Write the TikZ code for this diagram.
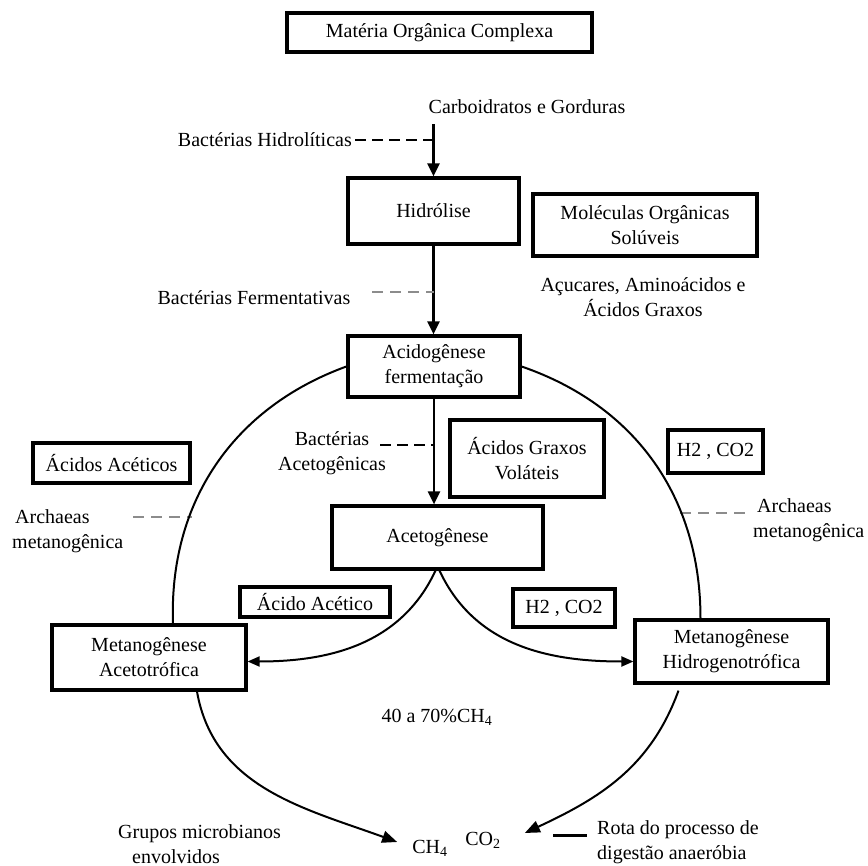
\documentclass[tikz,border=0pt]{standalone}
\usepackage{fontspec}
\setmainfont{Liberation Serif}
\usetikzlibrary{arrows.meta}
\begin{document}
\begin{tikzpicture}[x=1pt,y=-1pt,
  every node/.style={font=\fontsize{20}{25}\selectfont, inner sep=0pt, text=black},
  box/.style={draw, line width=3.2pt, align=center},
  arr/.style={line width=2.3pt, -{Triangle[length=13pt,width=12pt]}},
  curve/.style={line width=2pt},
  smallhead/.style={-{Triangle[length=12pt,width=10pt]}},
  bighead/.style={-{Triangle[length=15pt,width=12pt]}},
  dk/.style={line width=2.8pt, dash pattern=on 11pt off 6pt},
  gy/.style={line width=2.4pt, black!45, dash pattern=on 11pt off 7pt}]
\useasboundingbox (0,0) rectangle (868,866);

\node[box, minimum width=305pt, minimum height=39pt] (mat) at (439.5,32.5) {Matéria Orgânica Complexa};
\node (carb) at (527,107) {Carboidratos e Gorduras};
\node[anchor=east] (bh) at (352,140) {Bactérias Hidrolíticas};
\node[box, minimum width=171pt, minimum height=66pt] (hid) at (433.5,211) {Hidrólise};
\node[box, minimum width=224pt, minimum height=62pt] (mol) at (645,225) {Moléculas Orgânicas\\Solúveis};
\node[align=center] (acu) at (643,297) {Açucares, Aminoácidos e\\Ácidos Graxos};
\node (bf) at (254,298) {Bactérias Fermentativas};
\node[box, minimum width=172pt, minimum height=61pt] (acid) at (434,366.5) {Acidogênese\\fermentação};
\node[align=center] (bac) at (332,453) {Bactérias\\Acetogênicas};
\node[box, minimum width=154pt, minimum height=77pt] (agv) at (527,458.5) {Ácidos Graxos\\Voláteis};
\node[box, minimum width=157pt, minimum height=40pt] (acac) at (111.5,463) {Ácidos Acéticos};
\node[box, minimum width=95pt, minimum height=43pt] (h2a) at (715.5,451.5) {H2 , CO2};
\node[align=left, anchor=west] (arL) at (12,531) {\hspace{3pt}Archaeas\\metanogênica};
\node[align=left, anchor=west] (arR) at (753,520) {\hspace{4pt}Archaeas\\metanogênica};
\node[box, minimum width=211pt, minimum height=63pt] (acet) at (437.5,537.5) {Acetogênese};
\node[box, minimum width=150pt, minimum height=30pt] (acido) at (315,602) {Ácido Acético};
\node[box, minimum width=102pt, minimum height=38pt] (h2b) at (564,608) {H2 , CO2};
\node[box, minimum width=194pt, minimum height=65pt] (mac) at (149,657.5) {Metanogênese\\Acetotrófica};
\node[box, minimum width=193pt, minimum height=63pt] (mhid) at (731.5,651.5) {Metanogênese\\Hidrogenotrófica};
\node (pct) at (437,717) {40 a 70\%CH\textsubscript{4}};
\node (ch4) at (430,848) {CH\textsubscript{4}};
\node (co2) at (483,840) {CO\textsubscript{2}};
\node[align=left, anchor=west] (grp) at (118,844) {Grupos microbianos\\\hspace{14pt}envolvidos};
\node[align=left, anchor=west] (rota) at (597,842) {Rota do processo de\\digestão anaeróbia};

% main vertical arrows
\draw[arr] ([yshift=-10pt]hid.north |- carb.south) -- (hid.north);
\draw[arr] (hid.south) -- (hid.south |- acid.north);
\draw[arr] (acid.south) -- (acid.south |- acet.north);

% dashed markers
\draw[dk] ([xshift=3pt]bh.east) -- (bh.east -| hid.north);
\coordinate (fd) at (372,292);
\draw[gy] (fd) -- (fd -| hid.south);
\coordinate (ad) at (380,445);
\draw[dk] (ad) -- (ad -| acid.south);
\coordinate (ld) at (133,517);
\coordinate (ld2) at (192,517);
\draw[gy] (ld) -- (ld2);
\coordinate (rd) at (745,513);
\coordinate (rd2) at (680,513);
\draw[gy] (rd2) -- (rd);

% big arcs
\draw[curve] (acid.west) to[out=200,in=92] ([xshift=24pt]mac.north);
\draw[curve] (acid.east) to[out=-19,in=90] ([xshift=-31pt]mhid.north);

% acetogenese branches
\draw[curve, smallhead] ([xshift=-2pt]acet.south) to[out=-115,in=0] ([yshift=-4pt]mac.east);
\draw[curve, smallhead] ([xshift=2pt]acet.south) to[out=-65,in=180] ([yshift=-10pt]mhid.west);

% lower arcs to CH4 / CO2
\draw[curve, bighead] ([xshift=48pt]mac.south) to[out=-80,in=160] ([xshift=-15pt,yshift=6pt]ch4.west);
\draw[curve, bighead] ([xshift=-53pt,yshift=-6pt]mhid.south) to[out=-110,in=25] ([xshift=24pt,yshift=7pt]co2.east);

% legend line
\draw[line width=3pt] ([xshift=-44pt,yshift=7pt]rota.west) -- ([xshift=-10pt,yshift=7pt]rota.west);
\end{tikzpicture}
\end{document}
